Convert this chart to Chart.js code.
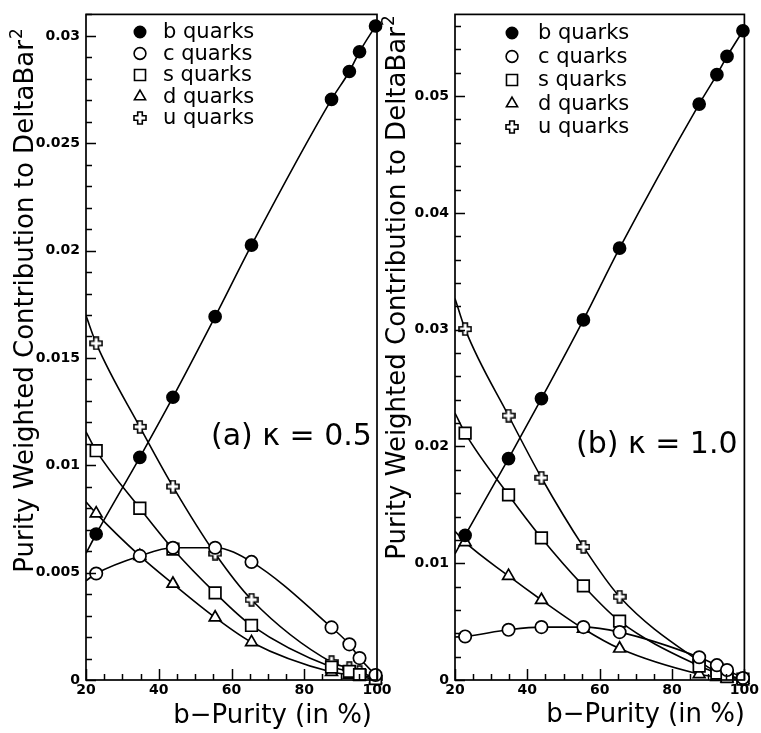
<!DOCTYPE html>
<html>
<head>
<meta charset="utf-8">
<script src="https://cdn.jsdelivr.net/npm/chart.js@4.4.0/dist/chart.umd.min.js"></script>
<style>
html, body { margin: 0; padding: 0; background: #fff; }
#wrap { position: relative; width: 761px; height: 733px; overflow: hidden; }
.box { position: absolute; top: 0; height: 733px; }
#boxA { left: 0; width: 400px; }
#boxB { left: 380px; width: 381px; }
</style>
</head>
<body>
<div id="wrap">
  <div class="box" id="boxA"><canvas id="chartA" width="400" height="733"></canvas></div>
  <div class="box" id="boxB"><canvas id="chartB" width="381" height="733"></canvas></div>
</div>
<script>
// b-purity of the working points (in %), same in both panels
var purity = [22.8, 34.8, 43.9, 55.5, 65.5, 87.5, 92.4, 95.2, 99.6];
// fitted curves start at the left edge
var fitStart = 20;
var quarkNames = ["b quarks", "c quarks", "s quarks", "d quarks", "u quarks"];

// (a) kappa = 0.5
var bA = [0.0068, 0.01037, 0.01317, 0.01692, 0.02025, 0.02704, 0.02834, 0.02926, 0.03046];
var cA = [0.00496, 0.00578, 0.00616, 0.00616, 0.0055, 0.00245, 0.00166, 0.00102, 0.00023];
var sA = [0.01068, 0.0080, 0.0061, 0.00406, 0.00254, 0.0006, 0.0004, 0.00025, 0.00007];
var dA = [0.00776, 0.00578, 0.00448, 0.00291, 0.00176, 0.00037, 0.00025, 0.00015, 0.00004];
var uA = [0.01568, 0.01179, 0.00901, 0.00589, 0.00374, 0.00083, 0.00055, 0.00037, 0.0001];
var startA = [0.0059, 0.00462, 0.01156, 0.0083, 0.01697]; // b c s d u at 20 %

// (b) kappa = 1.0
var bB = [0.01239, 0.01896, 0.0241, 0.03084, 0.03698, 0.04932, 0.05184, 0.0534, 0.0556];
var cB = [0.00373, 0.0043, 0.00453, 0.00453, 0.0041, 0.00195, 0.00127, 0.00085, 0.00017];
var sB = [0.02114, 0.01585, 0.01217, 0.00806, 0.00504, 0.0012, 0.0006, 0.0003, 0.00008];
var dB = [0.0118, 0.00891, 0.00685, 0.00439, 0.00269, 0.0005, 0.00025, 0.00012, 0.00003];
var uB = [0.03005, 0.02264, 0.01732, 0.0114, 0.00713, 0.0016, 0.0007, 0.0004, 0.0001];
var startB = [0.0108, 0.00368, 0.02286, 0.01273, 0.03268];

// labelled ticks
var xTicks = [20, 40, 60, 80, 100];
var yTicksA = [0, 0.005, 0.01, 0.015, 0.02, 0.025, 0.03];
var yTicksB = [0, 0.01, 0.02, 0.03, 0.04, 0.05];

var FONT = "'DejaVu Sans', sans-serif";

// hollow plus marker for the u quarks
function makeCross() {
    var c = document.createElement("canvas");
    c.width = 14;
    c.height = 14;
    var g = c.getContext("2d");
    var a = 2.3, r = 6, m = 7;
    g.beginPath();
    g.moveTo(m - a, m - r); g.lineTo(m + a, m - r); g.lineTo(m + a, m - a); g.lineTo(m + r, m - a);
    g.lineTo(m + r, m + a); g.lineTo(m + a, m + a); g.lineTo(m + a, m + r); g.lineTo(m - a, m + r);
    g.lineTo(m - a, m + a); g.lineTo(m - r, m + a); g.lineTo(m - r, m - a); g.lineTo(m - a, m - a);
    g.closePath();
    g.fillStyle = "#fff";
    g.fill();
    g.lineWidth = 1.6;
    g.strokeStyle = "#000";
    g.stroke();
    return c;
}

var markers = [
    { pointStyle: "circle", radius: 6, bg: "#000" },
    { pointStyle: "circle", radius: 6.2, bg: "#fff" },
    { pointStyle: "rect", radius: 8.2, bg: "#fff" },
    { pointStyle: "triangle", radius: 6.8, bg: "#fff" },
    { pointStyle: makeCross(), radius: 6, bg: "#fff" }
];

function isIn(v, list) {
    for (var i = 0; i < list.length; i++) {
        if (Math.abs(list[i] - v) < 1e-9) return String(list[i]);
    }
    return "";
}

// frame + inward tick marks
var framePlugin = {
    id: "frame",
    afterDraw: function (chart) {
        var ctx = chart.ctx, a = chart.chartArea;
        var xs = chart.scales.x, ys = chart.scales.y;
        ctx.save();
        ctx.strokeStyle = "#000";
        ctx.lineWidth = 1.7;
        ctx.strokeRect(a.left, a.top, a.right - a.left, a.bottom - a.top);
        ctx.lineWidth = 1.5;
        ctx.beginPath();
        xs.ticks.forEach(function (t) {
            var px = Math.round(xs.getPixelForValue(t.value)) + 0.5;
            var len = t.label ? 11 : 6;
            ctx.moveTo(px, a.bottom);
            ctx.lineTo(px, a.bottom - len);
        });
        ys.ticks.forEach(function (t) {
            var py = Math.round(ys.getPixelForValue(t.value)) + 0.5;
            var len = t.label ? 10 : 6;
            ctx.moveTo(a.left, py);
            ctx.lineTo(a.left + len, py);
        });
        ctx.stroke();
        ctx.restore();
    }
};

// axis titles, kappa note and the legend
var textPlugin = {
    id: "panelText",
    afterDraw: function (chart, args, o) {
        var ctx = chart.ctx;
        ctx.save();
        ctx.fillStyle = "#000";

        // y title
        ctx.save();
        ctx.translate(o.yTitleX, o.yTitleY);
        ctx.rotate(-Math.PI / 2);
        var main = "Purity Weighted Contribution to DeltaBar";
        ctx.font = "26px " + FONT;
        var w1 = ctx.measureText(main).width;
        ctx.font = "17px " + FONT;
        var w2 = ctx.measureText("2").width;
        var x0 = -(w1 + w2) / 2;
        ctx.textAlign = "left";
        ctx.textBaseline = "alphabetic";
        ctx.font = "26px " + FONT;
        ctx.fillText(main, x0, 0);
        ctx.font = "17px " + FONT;
        ctx.fillText("2", x0 + w1 + 1, -11);
        ctx.restore();

        // x title
        ctx.font = "26px " + FONT;
        ctx.textAlign = "right";
        ctx.textBaseline = "alphabetic";
        ctx.fillText("b\u2212Purity (in %)", o.xTitleRight, o.xTitleY);

        // note
        ctx.font = "30px " + FONT;
        ctx.textAlign = "right";
        ctx.textBaseline = "middle";
        ctx.fillText(o.note, chart.scales.x.getPixelForValue(o.noteX), chart.scales.y.getPixelForValue(o.noteY));

        // legend
        ctx.font = "21px " + FONT;
        ctx.textAlign = "left";
        ctx.textBaseline = "middle";
        for (var i = 0; i < quarkNames.length; i++) {
            var y = o.legY + i * o.legDy;
            ctx.fillStyle = markers[i].bg;
            ctx.strokeStyle = "#000";
            ctx.lineWidth = 1.6;
            Chart.helpers.drawPoint(ctx, {
                pointStyle: markers[i].pointStyle,
                radius: markers[i].radius * 0.95,
                rotation: 0,
                borderWidth: 1.6
            }, o.legMarkX, y);
            ctx.fillStyle = "#000";
            ctx.fillText(quarkNames[i], o.legTextX, y + 1);
        }
        ctx.restore();
    }
};

function buildChart(id, series, starts, p) {
    var datasets = [];
    series.forEach(function (vals, i) {
        datasets.push({
            label: quarkNames[i],
            data: purity.map(function (x, j) { return { x: x, y: vals[j] }; }),
            showLine: false,
            pointStyle: markers[i].pointStyle,
            pointRadius: markers[i].radius,
            pointBackgroundColor: markers[i].bg,
            pointBorderColor: "#000",
            pointBorderWidth: 1.7,
            clip: false,
            order: 0
        });
    });
    series.forEach(function (vals, i) {
        var pts = [{ x: fitStart, y: starts[i] }];
        purity.forEach(function (x, j) { pts.push({ x: x, y: vals[j] }); });
        datasets.push({
            label: quarkNames[i] + " fit",
            data: pts,
            showLine: true,
            pointRadius: 0,
            borderColor: "#000",
            borderWidth: 1.6,
            cubicInterpolationMode: "monotone",
            order: 1
        });
    });

    return new Chart(document.getElementById(id), {
        type: "scatter",
        data: { datasets: datasets },
        options: {
            responsive: false,
            animation: false,
            events: [],
            layout: { padding: { top: 8, right: p.padRight, left: 0, bottom: 0 } },
            scales: {
                x: {
                    type: "linear",
                    min: 20,
                    max: 100,
                    grid: { display: false, drawTicks: false },
                    border: { display: false },
                    ticks: {
                        stepSize: 5,
                        autoSkip: false,
                        maxRotation: 0,
                        includeBounds: false,
                        padding: 2,
                        color: "#000",
                        font: { family: FONT, size: 14, weight: "bold" },
                        callback: function (v) { return isIn(v, xTicks); }
                    },
                    afterFit: function (s) { s.height = 53; }
                },
                y: {
                    type: "linear",
                    min: 0,
                    max: p.yMax,
                    grid: { display: false, drawTicks: false },
                    border: { display: false },
                    ticks: {
                        stepSize: p.yStep,
                        autoSkip: false,
                        includeBounds: false,
                        padding: 6,
                        color: "#000",
                        font: { family: FONT, size: 14, weight: "bold" },
                        callback: function (v) { return isIn(v, p.yLabels); }
                    },
                    afterFit: function (s) { s.width = p.axisLeft; }
                }
            },
            plugins: {
                legend: { display: false },
                tooltip: { enabled: false },
                panelText: p.text
            }
        },
        plugins: [framePlugin, textPlugin]
    });
}

buildChart("chartA", [bA, cA, sA, dA, uA], startA, {
    yMax: 0.031, yStep: 0.001, yLabels: yTicksA, axisLeft: 86, padRight: 23,
    text: {
        yTitleX: 33, yTitleY: 301, xTitleRight: 372, xTitleY: 723,
        note: "(a) \u03ba = 0.5", noteX: 98.6, noteY: 0.0113,
        legMarkX: 140, legTextX: 163, legY: 32, legDy: 21.5
    }
});

buildChart("chartB", [bB, cB, sB, dB, uB], startB, {
    yMax: 0.057, yStep: 0.002, yLabels: yTicksB, axisLeft: 75, padRight: 14,
    text: {
        yTitleX: 25, yTitleY: 288, xTitleRight: 365, xTitleY: 722,
        note: "(b) \u03ba = 1.0", noteX: 98.1, noteY: 0.0201,
        legMarkX: 132, legTextX: 158, legY: 33, legDy: 23.5
    }
});
</script>
</body>
</html>
